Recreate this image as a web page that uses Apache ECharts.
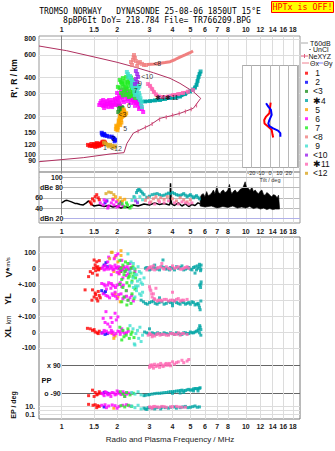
<!DOCTYPE html>
<html><head><meta charset="utf-8">
<script src="https://cdn.jsdelivr.net/npm/echarts@6/dist/echarts.min.js"></script>
<style>html,body{margin:0;padding:0;background:#fff}#c{width:335px;height:451px}</style>
</head><body><div id="c"></div>
<script>
// ---------------- tick values ----------------
const freqTicks = [1,1.5,2,3,4,5,6,7,8,10,12,14,16,18];
const heightTicks = [80,90,100,120,150,200,300,400,600,800];
const freqRange = [0.753, 19.7];
const heightRange = [73.1, 844];
const ampRange = [11, 110];
const tiltRange = [-30, 30];
const tiltHeightRange = [78.5, 501];

// ---------------- main ionogram echoes (MHz, km) ----------------
const echo1 = [[1.39,119],[1.46,117],[1.50,119],[1.54,118],[1.58,121],[1.62,122],[1.66,124],[1.70,126],[1.52,115],[1.60,117],[1.64,119],[1.68,121],[1.48,117],[1.56,116],[1.72,124],[1.42,117],[1.45,121],[1.51,121],[1.57,119],[1.63,120],[1.67,126],[1.55,123]];
const echo2 = [[1.65,148],[1.66,144],[1.68,142],[1.72,141],[1.76,140],[1.81,138],[1.87,138],[1.90,135],[1.93,133],[1.95,130],[1.94,127],[1.70,145]];
const echo3 = [[2.02,243],[2.07,240],[2.12,235],[2.05,228],[2.10,223],[2.15,219],[2.03,215],[2.09,213],[2.14,231]];
const echo4 = [[2.53,262],[2.66,260],[2.84,260],[3.02,262],[3.21,265],[3.42,267],[3.64,272],[3.88,277],[4.13,279],[4.39,284],[4.68,297],[4.98,311],[5.17,322],[5.30,334],[5.40,350],[5.47,376],[5.54,404],[5.61,426],[5.68,446]];
const echo5 = [[1.97,158],[1.99,165],[2.03,172],[2.05,181],[2.07,192],[2.10,204],[2.13,210],[2.19,216],[2.21,204],[2.10,186],[2.02,163],[2.00,160],[2.06,176],[2.12,196],[2.16,200],[2.08,170],[2.15,212],[2.24,210],[1.98,168],[2.04,185],[2.09,195],[2.14,205],[2.18,220],[2.11,178],[2.01,155],[2.17,225],[2.07,200]];
const echo6 = [[1.62,253],[1.66,244],[1.70,248],[1.74,240],[1.79,248],[1.83,253],[1.88,244],[1.92,253],[1.97,262],[2.02,267],[2.07,277],[2.13,282],[2.18,287],[2.24,292],[2.29,282],[2.35,272],[2.41,267],[2.47,257],[2.53,253],[2.60,244],[2.66,235],[2.73,227],[2.77,215],[1.70,231],[1.79,235],[1.88,235],[1.97,244],[2.07,248],[2.18,257],[2.29,262],[2.13,303],[2.24,314],[2.35,297],[2.47,287],
  [1.64,262],[1.68,267],[1.72,257],[1.76,262],[1.81,267],[1.85,257],[1.90,267],[1.95,272],[2.00,277],[2.05,287],[2.10,292],[2.15,297],[2.21,303],[2.26,297],[2.32,287],[2.38,277],[2.44,272],[2.50,262],[2.57,257],[2.63,248],[2.70,240],[2.05,257],[2.15,267],[2.26,272],[2.38,253],[2.50,240],[2.63,227],[1.95,248],[1.85,240],[1.76,248],[1.68,240],[1.60,244],[2.10,320],[2.21,325],[2.32,308],[2.44,303],[2.57,282],[2.00,303]];
const echo7 = [[2.07,383],[2.15,396],[2.24,404],[2.32,389],[2.41,383],[2.13,356],[2.21,350],[2.29,362],[2.38,350],[2.47,344],[2.07,331],[2.18,320],[2.26,325],[2.35,314],[2.44,308],[2.53,303],[2.24,292],[2.32,282],[2.41,287],[2.50,277],[2.10,303],[2.02,338],
  [2.10,370],[2.20,375],[2.28,370],[2.36,365],[2.16,340],[2.24,335],[2.32,340],[2.40,330],[2.48,320],[2.20,310],[2.28,300],[2.36,295],[2.45,295],[2.15,290],[2.12,365],[2.30,410],[2.38,400]];
const echo8 = [[2.38,529],[2.44,548],[2.46,578],[2.47,600],[2.50,569],[2.53,538],[2.60,520],[2.66,529],[2.73,511],[2.80,501],[2.41,501],[2.57,492],[2.87,501]];
const echo8Trail = [[2.91,506],[3.21,511],[3.42,517],[3.64,524],[3.88,532],[4.13,553],[4.39,578],[4.68,600],[4.98,625],[5.17,644]];
const echo9 = [[2.26,442],[2.29,426],[2.35,411],[2.41,369],[2.47,356],[2.53,344],[2.60,331],[2.44,331],[2.57,314],[2.63,303],[2.50,292],[2.60,282],[2.66,267],[2.70,248],[2.73,235],
  [2.30,400],[2.38,390],[2.45,375],[2.52,360],[2.58,350],[2.64,340],[2.55,300],[2.65,290],[2.68,275],[2.72,260],[2.48,310],[2.40,345]];
const echo10 = [[2.53,450],[2.57,426],[2.60,404],[2.53,389],[2.57,369],[2.50,356]];
const echo11 = [[2.94,356],[3.02,344],[3.10,325],[3.17,308],[3.25,295],[3.38,284],[3.55,282],[3.79,284],[4.04,292],[4.30,297],[4.56,303],[4.85,310],[5.17,320]];
const echo12 = [[1.70,124],[1.74,121],[1.78,119],[1.83,119],[1.88,117],[1.95,116],[1.80,116],[1.91,114]];
const echoLabels = [['1',1.72,114],['<12',1.97,112],['2',1.91,134],['5',2.21,160],['<3',2.14,204],['6',2.32,240],['7',2.52,314],['9',2.66,356],['<10',2.91,411],['✱4',3.42,277],['✱11',3.98,277],['<8',3.30,515]];

// NeXYZ profile (MHz, km)
const profile = [[0.753,705],[1.065,648],[1.615,565],[2.0,526],[2.449,486],[3.15,436],[3.88,394],[4.39,360],[5.19,310],[5.69,275],[5.19,230],[4.39,210],[3.88,200],[3.42,192],[3.02,170],[2.449,147],[2.26,122],[2.18,103.5],[1.83,101],[1.31,94.6],[0.753,88]];
const profileMarks = [[2.6,152],[2.85,163],[3.1,173],[3.4,188],[3.7,196],[4.0,203],[4.35,209],[4.7,217],[5.05,226],[5.4,242]];

// tilt inset (deg, km)
const tiltX = [[0.7,254],[0,231],[-0.7,210],[-4.2,198],[-6.2,186],[-5.9,175],[-1.8,165],[1.8,156],[2.8,142],[3.4,136]];
const tiltY = [[-4.2,252],[-1.8,237],[1.0,223],[1.8,204],[-0.7,186],[-1.8,175],[-0.7,167],[3.4,160],[8.6,154],[11.1,147],[11.1,138]];

// ---------------- amplitude panel (MHz, dB) ----------------
const noiseLow = [[1.0,50],[1.04,54],[1.07,55],[1.11,53],[1.13,52],[1.18,49],[1.21,49],[1.26,47],[1.31,46],[1.36,50],[1.40,54],[1.45,47],[1.5,44],[1.6,46],[1.7,43],[1.8,45],[1.9,42],[2.0,44],[2.1,40],[2.2,43],[2.3,41],[2.45,46],[2.6,44],[2.8,48],[3.0,46],[3.2,50],[3.4,47],[3.6,49],[3.85,46],[3.88,50],[3.90,88],[3.93,55],[3.95,48],[4.1,45],[4.3,50],[4.5,44],[4.7,48],[4.9,43],[5.1,47],[5.3,45],[5.5,50],[5.65,48]];
const noiseTop = [[5.65,60],[5.75,66],[5.88,68],[6.0,62],[6.13,72],[6.25,64],[6.40,66],[6.55,70],[6.67,75],[6.8,68],[6.96,82],[7.1,70],[7.26,68],[7.4,73],[7.56,75],[7.7,70],[7.88,72],[8.0,76],[8.15,86],[8.3,72],[8.40,68],[8.6,73],[8.76,75],[8.95,70],[9.13,72],[9.3,76],[9.53,78],[9.7,82],[9.92,91],[10.1,80],[10.35,78],[10.55,74],[10.79,81],[11.0,72],[11.25,75],[11.5,70],[11.73,68],[12.0,73],[12.23,75],[12.5,66],[12.74,65],[13.0,70],[13.29,68],[13.6,64],[13.86,62],[14.1,66],[14.44,65],[14.8,60],[15.06,65],[15.24,42]];
const noiseBottom = [[5.65,44],[6.0,42],[6.5,44],[7.0,40],[7.5,43],[8.0,41],[8.5,44],[9.0,40],[9.5,42],[10.0,40],[10.5,43],[11.0,39],[11.5,41],[12.0,38],[12.5,40],[13.0,37],[13.5,39],[14.0,37],[14.5,38],[15.24,38]];
const amp1 = [[1.43,52],[1.47,58],[1.52,62],[1.55,66],[1.58,60],[1.50,54],[1.60,56],[1.45,48]];
const amp2 = [[1.72,50],[1.76,54]];
const amp3 = [[2.05,48],[2.10,52]];
const amp4 = [[2.47,62],[2.55,70],[2.62,77],[2.70,72],[2.80,66],[2.90,61],[3.1,66],[3.3,68],[3.5,64],[3.7,67],[3.88,68],[4.0,70],[4.2,66],[4.4,64],[4.6,68],[4.8,62],[5.0,66],[5.2,60],[5.4,64],[5.6,58],[2.58,74],[2.66,75],[2.75,69],[3.0,63],[3.2,67],[3.4,66],[3.6,65],[3.8,69],[4.1,68],[4.3,65],[4.5,66],[4.7,65],[4.9,64],[5.1,63],[5.3,62],[5.5,61]];
const amp5 = [[1.90,58],[1.96,62],[2.02,55],[2.08,60],[2.14,54],[2.20,57]];
const amp6 = [[1.62,50],[1.68,46],[1.74,53],[1.80,44],[1.86,50],[1.92,46],[1.98,52],[2.04,44],[2.10,48],[1.70,56],[1.90,56],[2.0,42],[1.78,40],[2.15,44]];
const amp7 = [[2.13,48],[2.2,42],[2.28,46],[2.35,40],[2.25,50],[2.40,44]];
const amp8 = [[2.85,55],[2.95,60],[3.05,52],[3.15,58],[3.25,62],[3.35,55],[3.45,60],[3.6,57],[3.75,62],[4.0,58],[4.2,54],[4.4,60],[4.6,56],[4.8,52],[5.0,56]];
const amp9 = [[2.41,55],[2.5,60],[2.58,52],[2.66,62],[2.75,56]];
const amp10 = [[2.52,54],[2.58,50]];
const amp11 = [[3.0,50],[3.2,48],[3.4,52],[3.6,50],[3.8,54],[4.1,50],[4.3,48],[4.5,52],[4.7,50],[4.9,48],[5.1,50]];
const amp12 = [[1.74,68],[1.80,71],[1.86,70],[1.92,66]];

// ---------------- lower panels (MHz, value) ----------------
const v1 = [[1.50,52],[1.55,41],[1.60,48],[1.52,21],[1.57,10],[1.49,0],[1.58,-6],[1.53,-15],[1.62,0],[1.47,-31],[1.56,-42],[1.40,-52],[1.43,-21],[1.54,5],[1.59,-10]];
const v2 = [[1.70,20],[1.74,35],[1.77,10]];
const v3 = [[2.05,0],[2.10,-20]];
const v4 = [[2.85,0],[3.0,-10],[3.15,5],[3.3,-5],[3.5,10],[3.55,52],[3.7,-5],[3.9,5],[4.1,-10],[4.3,0],[4.5,15],[4.7,-5],[4.9,5],[5.1,-10],[5.3,10],[5.5,0],[5.6,25],[5.7,-5],[5.3,-30],[3.2,20],
  [2.9,5],[3.05,-5],[3.25,0],[3.4,-10],[3.6,5],[3.75,0],[3.85,-10],[4.0,0],[4.2,10],[4.4,5],[4.6,-10],[4.8,0],[5.0,-5],[5.2,5],[5.4,-10],[5.45,15],[5.62,10],[5.68,-15],[5.72,20]];
const v5 = [[1.88,100],[1.95,70],[2.02,40],[2.10,80],[1.92,-20],[2.05,-30],[2.12,5],[2.10,110]];
const v6 = [[1.68,10],[1.74,-5],[1.83,15],[1.90,-10],[1.97,5],[2.07,-15],[2.18,10],[2.29,-5],[2.41,0],[2.50,-20],[1.78,40],[1.93,60],[2.02,90],[2.12,50],[1.86,-40],[2.05,-35],[2.24,-45],[1.72,20],[2.00,-25],[2.35,30],[1.95,20],[2.10,-5],[2.22,-20],
  [1.66,0],[1.70,-10],[1.76,5],[1.80,-5],[1.85,0],[1.88,10],[1.92,-5],[1.99,0],[2.03,10],[2.08,5],[2.14,-10],[2.20,0],[2.27,10],[2.33,-10],[2.38,5],[1.80,70],[1.97,80],[2.15,-60],[2.30,-35]];
const v7 = [[2.07,50],[2.15,20],[2.24,-10],[2.33,-50],[2.41,-80],[2.18,-40],[2.29,30],[2.38,0],[2.47,-30],[2.12,-70],[2.26,-90],[2.44,10],[2.52,-60],[2.10,0],[2.20,-20],[2.30,-60],[2.36,-30],[2.44,-50],[2.50,-5],[2.22,40]];
const v9 = [[2.29,90],[2.38,40],[2.47,0],[2.56,-40],[2.66,-70],[2.75,-100],[2.44,-60],[2.60,10],[2.70,-30],[2.52,-110],[2.35,-20],[2.80,-60],[2.40,-90],[2.50,-40],[2.58,-80],[2.64,-20],[2.70,-90],[2.45,30],[2.55,-120]];
const v11 = [[3.0,5],[3.1,-5],[3.3,0],[3.45,10],[3.6,-5],[3.8,0],[4.0,15],[4.2,5],[4.4,-5],[4.6,0],[4.8,10],[3.5,30],[2.9,-10],
  [2.95,0],[3.05,10],[3.2,-10],[3.35,5],[3.55,0],[3.7,10],[3.9,-5],[4.1,0],[4.3,10],[4.5,-5],[4.7,5],[4.9,0],[3.15,15]];
const v12 = [[1.82,60],[1.86,100]];

const yl1 = [[1.47,65],[1.52,45],[1.58,55],[1.50,20],[1.55,10],[1.60,30],[1.46,0],[1.57,-5],[1.53,35],[1.62,15],[1.34,65]];
const yl2 = [[1.65,60],[1.70,45],[1.73,55]];
const yl4 = [[2.70,0],[2.85,-20],[3.0,-15],[3.15,-5],[3.3,-25],[3.5,-10],[3.7,-20],[3.9,-15],[4.1,-5],[4.3,-20],[4.5,-10],[4.7,-25],[4.9,-15],[5.1,-10],[5.3,-30],[5.5,-20],[5.6,-45],[5.7,-5],[3.4,15],[4.0,-35],[5.62,95],[5.72,115],[5.68,80],
  [2.78,-10],[2.92,-25],[3.08,-10],[3.22,-20],[3.38,-15],[3.6,-25],[3.8,-10],[4.0,-20],[4.2,-15],[4.4,-25],[4.6,-15],[4.8,-20],[5.0,-25],[5.2,-15],[5.4,-25],[5.55,-30],[5.65,-60],[5.7,100]];
const yl5 = [[1.95,40],[2.02,20],[2.08,-10]];
const yl6 = [[1.65,105],[1.72,90],[1.80,110],[1.88,95],[1.96,80],[2.05,100],[2.12,85],[1.75,70],[1.85,75],[1.68,40],[1.78,25],[1.90,30],[2.00,10],[2.10,40],[2.20,20],[2.30,0],[2.40,30],[2.45,-5],[1.95,50],[2.25,60],
  [1.70,100],[1.78,95],[1.86,105],[1.92,90],[2.0,95],[2.08,110],[2.16,95],[1.74,30],[1.82,15],[1.88,40],[1.96,25],[2.04,35],[2.15,10],[2.25,25],[2.35,15]];
const yl7 = [[2.07,100],[2.15,80],[2.24,60],[2.33,90],[2.41,40],[2.18,20],[2.29,0],[2.38,-20],[2.47,10],[2.12,-10],[2.50,70],[2.26,-30]];
const yl9 = [[2.45,80],[2.55,60],[2.65,40],[2.50,20],[2.60,90],[2.70,30],[2.75,50]];
const yl11 = [[3.0,85],[3.05,60],[3.1,20],[3.2,5],[3.35,0],[3.5,-5],[3.7,5],[3.9,0],[4.1,-5],[4.3,10],[4.5,0],[3.15,40],[3.25,75],[4.0,50],
  [3.02,70],[3.08,40],[3.18,10],[3.3,-5],[3.45,0],[3.6,5],[3.8,-5],[4.0,0],[4.2,5],[4.4,-5],[4.6,0],[4.8,5]];

const xl1 = [[1.43,20],[1.47,10],[1.52,0],[1.56,-5],[1.60,5],[1.50,15],[1.58,-10],[1.38,23]];
const xl2 = [[1.66,-5],[1.72,-15],[1.77,-10]];
const xl4 = [[2.82,0],[2.95,-10],[3.1,-5],[3.25,-15],[3.4,-10],[3.6,-5],[3.8,-15],[4.0,-10],[4.2,-5],[4.4,-15],[4.6,-5],[4.8,-10],[5.0,0],[5.2,-5],[5.4,5],[5.55,20],[5.65,30],[5.7,-20],[5.6,-5],[3.0,20],
  [2.9,-5],[3.05,-15],[3.18,-10],[3.32,-5],[3.5,-15],[3.7,-10],[3.9,-5],[4.1,-15],[4.3,-10],[4.5,-15],[4.7,-5],[4.9,-10],[5.1,-5],[5.3,0],[5.5,10],[5.62,40],[5.7,15]];
const xl5 = [[1.88,-10],[1.92,-40],[1.95,-25]];
const xl6 = [[1.68,86],[1.74,128],[1.95,118],[1.98,76],[1.83,33],[2.07,2],[1.65,-8],[1.92,-19],[1.78,50],[1.88,60],[2.02,95],[1.70,10],[1.86,-5],[2.12,20],[2.20,-10],[2.30,5],
  [1.70,0],[1.75,5],[1.80,-5],[1.86,10],[1.90,0],[1.97,-10],[2.02,5],[2.08,-15],[2.15,0],[2.25,-5],[1.85,90],[1.72,60]];
const xl7 = [[2.07,30],[2.15,10],[2.24,-20],[2.33,-40],[2.41,0],[2.18,-30],[2.29,20],[2.38,-15],[2.47,-35],[2.12,-50]];
const xl9 = [[2.35,40],[2.44,20],[2.53,-10],[2.62,-40],[2.70,-60],[2.48,-75],[2.58,10],[2.75,-20],[2.66,30],[2.50,-82]];
const xl11 = [[2.95,-20],[3.05,-15],[3.2,-25],[3.35,-10],[3.5,-15],[3.7,-20],[3.9,-10],[4.1,-15],[4.3,-5],[4.5,-10],[3.1,-30],
  [3.0,-10],[3.12,-20],[3.28,-15],[3.42,-20],[3.6,-15],[3.8,-20],[4.0,-10],[4.2,-15],[4.4,-20],[4.6,-10],[4.8,-15]];

const pp1 = [[1.47,-70],[1.52,-85],[1.57,-95],[1.60,-80],[1.50,-110],[1.55,-100],[1.62,-90],[1.40,-105]];
const pp2 = [[1.70,-85],[1.78,-90]];
const pp4 = [[2.8,-105],[2.95,-100],[3.1,-95],[3.3,-90],[3.5,-88],[3.7,-85],[3.9,-80],[4.1,-78],[4.3,-75],[4.5,-70],[4.7,-72],[4.9,-65],[5.1,-68],[5.3,-60],[5.5,-62],[5.65,-55],[4.0,-90],[4.6,-85],[5.2,-75],
  [2.85,-102],[3.0,-98],[3.2,-92],[3.4,-90],[3.6,-86],[3.8,-82],[4.0,-80],[4.2,-76],[4.4,-72],[4.6,-74],[4.8,-68],[5.0,-70],[5.2,-62],[5.4,-60],[5.6,-58],[5.5,-75],[4.4,-88]];
const pp6 = [[1.65,-90],[1.72,-80],[1.80,-95],[1.88,-85],[1.95,-100],[2.05,-90],[2.15,-80],[2.25,-95],[1.70,-105],[2.0,-75],[1.85,-110],[2.2,-110],
  [1.68,-95],[1.75,-85],[1.78,-100],[1.83,-92],[1.92,-88],[1.98,-95],[2.03,-82],[2.10,-98],[2.18,-90],[2.30,-88],[2.38,-92]];
const pp7 = [[2.08,-80],[2.15,-95],[2.25,-85],[2.35,-100],[2.45,-90],[2.2,-110]];
const pp9 = [[2.4,-85],[2.5,-95],[2.6,-80],[2.7,-100]];
const pp11 = [[3.0,75],[3.05,90],[3.1,80],[3.2,95],[3.3,85],[3.4,75],[3.5,90],[3.6,85],[3.7,100],[3.8,95],[4.0,110],[4.2,105],[4.5,120],[4.8,115],[3.15,70],[3.45,100],[3.9,85],
  [3.02,85],[3.12,90],[3.25,80],[3.35,92],[3.55,80],[3.65,95],[3.75,88],[3.85,100],[4.1,95],[4.3,110],[4.6,105],[4.9,125]];

const ep1 = [[1.40,25],[1.48,15],[1.52,20],[1.57,12],[1.60,8],[1.55,4]];
const ep2 = [[1.7,6]];
const ep4 = [[2.8,3],[2.9,1.5],[3.0,4],[3.2,2],[3.5,5],[3.8,3],[4.1,6],[4.4,4],[4.7,8],[5.0,5],[5.3,10],[5.6,6],
  [2.85,2],[2.95,4],[3.1,3],[3.3,4],[3.45,2],[3.65,4],[3.9,5],[4.2,3],[4.55,6],[4.85,4],[5.15,7],[5.45,5]];
const ep5 = [[1.92,3]];
const ep6 = [[1.65,15],[1.72,20],[1.80,10],[1.88,18],[1.95,12],[2.05,8],[2.15,15],[2.25,20],[2.35,10],[1.75,4],[2.0,3]];
const ep7 = [[2.1,12],[2.2,6],[2.3,15],[2.4,8]];
const ep9 = [[2.4,10],[2.5,4],[2.6,15],[2.7,2]];
const ep11 = [[3.0,6],[3.2,8],[3.4,5],[3.6,7],[3.9,6],[4.2,8],[4.5,5],[3.1,3],[3.05,5],[3.15,7],[3.3,6],[3.5,8],[3.7,5],[4.0,7],[4.35,6],[4.7,5]];

// ---------------- styles ----------------
const NB = '\u00a0';
const names = [NB+'1',NB+'2','<3','✱4',NB+'5',NB+'6',NB+'7','<8',NB+'9','<10','✱11','<12'];
const colors = ['#ff0000','#0000ff','#1f8f1f','#00a5a5','#ffa500','#ff00ff','#22ee22','#f08080','#40e0d0','#9a22ee','#ff69b4','#daa520'];
const lg = Math.log10;
const FH = d => d.map(p => [lg(p[0]), lg(p[1])]);
const FV = d => d.map(p => [lg(p[0]), p[1]]);
const font = 'Liberation Sans';
const tick = {fontFamily: font, fontSize: 7, fontWeight: 'bold', color: '#222'};
const gridCol = '#dcdcdc';

function sc(i, xi, yi, data, size) {
  return {type:'scatter', name:names[i], xAxisIndex:xi, yAxisIndex:yi, data:data, symbol:'rect',
    symbolSize:size||3, itemStyle:{color:colors[i]}, clip:false, silent:true, animation:false};
}
function ln(color, xi, yi, data, width, z) {
  return {type:'line', xAxisIndex:xi, yAxisIndex:yi, data:data, symbol:'none', showSymbol:false, z:z||2,
    lineStyle:{color:color, width:width||1}, itemStyle:{color:color}, clip:false, silent:true, animation:false};
}
const fmtF = v => String(+Math.pow(10, v).toFixed(2));

// grids: 0 main, 1 amp, 2 lower frame, 3 V, 4 YL, 5 XL, 6 PP, 7 EP, 8 tilt
const L = 39, W = 261;
const grids = [
  {left:L, top:36, width:W, height:136, show:true, borderColor:'#999', borderWidth:1},
  {left:L, top:172, width:W, height:51, show:true, borderColor:'#999', borderWidth:1},
  {left:L, top:237, width:W, height:182, show:true, borderColor:'#777', borderWidth:1},
  {left:L, top:252.3, width:W, height:32},
  {left:L, top:284.3, width:W, height:31.8},
  {left:L, top:316.1, width:W, height:31.8},
  {left:61.7, top:365, width:300-61.7, height:28.3},
  {left:L, top:406, width:W, height:8.3},
  {left:242, top:65, width:56, height:103}
].map(g => Object.assign({outerBoundsMode:'none', containLabel:false}, g));

const fx = [lg(freqRange[0]), lg(freqRange[1])];
function xAx(gi, opts) {
  return Object.assign({type:'value', gridIndex:gi, min:fx[0], max:fx[1], axisLine:{show:false}, axisTick:{show:false},
    axisLabel:{show:false}, splitLine:{show:false}}, opts||{});
}
const freqCustom = freqTicks.map(lg);
const xAxes = [
  xAx(0, {position:'top', axisTick:{show:false, customValues:freqCustom}, axisLabel:Object.assign({show:true, customValues:freqCustom, formatter:fmtF, margin:3}, tick), splitLine:{show:true, lineStyle:{color:gridCol}}}),
  xAx(1, {position:'bottom', axisTick:{show:false, customValues:freqCustom}, axisLabel:Object.assign({show:true, customValues:freqCustom, formatter:fmtF, margin:5}, tick), splitLine:{show:true, lineStyle:{color:gridCol}}}),
  xAx(2, {position:'bottom', axisTick:{show:false, customValues:freqCustom}, axisLabel:Object.assign({show:true, customValues:freqCustom, formatter:fmtF, margin:4}, tick), splitLine:{show:true, lineStyle:{color:gridCol}}}),
  xAx(3), xAx(4), xAx(5),
  xAx(6, {min:0}),
  xAx(7),
  {type:'value', gridIndex:8, min:tiltRange[0], max:tiltRange[1], interval:10, z:3, axisLine:{show:false}, axisTick:{show:false},
   axisLabel:{fontFamily:font, fontSize:5.5, color:'#333', margin:2, formatter:v => Math.abs(v) === 30 ? '' : String(v)},
   splitLine:{show:true, lineStyle:{color:'#b8b8b8'}}, name:'Tilt / deg', nameLocation:'middle', nameGap:8,
   nameTextStyle:{fontFamily:font, fontSize:5.5, color:'#333'}}
];

const hCustom = heightTicks.map(lg);
const yAxes = [
  {type:'value', gridIndex:0, min:lg(heightRange[0]), max:lg(heightRange[1]), axisLine:{show:true, lineStyle:{color:'#888'}}, axisTick:{show:false, customValues:hCustom},
   axisLabel:Object.assign({customValues:hCustom, formatter:fmtF, margin:3}, tick), splitLine:{show:true, lineStyle:{color:gridCol}}},
  {type:'value', gridIndex:1, position:'left', min:ampRange[0], max:ampRange[1], axisLine:{show:true, lineStyle:{color:'#888'}}, axisTick:{show:false, customValues:[40,60]},
   axisLabel:Object.assign({customValues:[40,60], margin:-4}, tick), splitLine:{show:true, lineStyle:{color:'#bbb'}}},
  {type:'value', gridIndex:1, position:'left', offset:0, min:ampRange[0], max:ampRange[1], axisLine:{show:false}, axisTick:{show:false, customValues:[80,100]},
   axisLabel:Object.assign({customValues:[80,100], inside:true, margin:1, backgroundColor:'#fff',
     formatter:v => v === 80 ? 'dBe 80' : '{p|100}', rich:{p:{padding:[0,0,0,11], fontFamily:font, fontSize:7, fontWeight:'bold', color:'#222'}}}, tick),
   splitLine:{show:true, lineStyle:{color:'#bbb'}}, z:3},
  {type:'value', gridIndex:1, position:'left', offset:0, min:ampRange[0], max:ampRange[1], axisLine:{show:false}, axisTick:{show:false, customValues:[20]},
   axisLabel:Object.assign({customValues:[20], inside:true, margin:1, backgroundColor:'#fff', formatter:() => 'dBn 20'}, tick),
   splitLine:{show:true, lineStyle:{color:'#b0b0e8'}}, z:3},
  {type:'value', gridIndex:2, min:0, max:1, axisLine:{show:false}, axisTick:{show:false}, axisLabel:{show:false}, splitLine:{show:false}},
  {type:'value', gridIndex:3, min:-100, max:100, interval:100, axisLine:{show:false}, axisTick:{show:false},
   axisLabel:Object.assign({margin:3, formatter:v => v === -100 ? '+-100' : String(v)}, tick), splitLine:{show:true, lineStyle:{color:gridCol}}},
  {type:'value', gridIndex:4, min:-100, max:100, interval:100, axisLine:{show:false}, axisTick:{show:false},
   axisLabel:Object.assign({margin:3, formatter:v => v === 100 ? '' : (v === -100 ? '+-100' : String(v))}, tick), splitLine:{show:true, lineStyle:{color:gridCol}}},
  {type:'value', gridIndex:5, min:-100, max:100, interval:100, axisLine:{show:false}, axisTick:{show:false},
   axisLabel:Object.assign({margin:3, formatter:v => v === 100 ? '' : String(v)}, tick), splitLine:{show:true, lineStyle:{color:gridCol}}},
  {type:'value', gridIndex:6, min:-90, max:90, axisLine:{show:false}, axisTick:{show:false, customValues:[-90,90]},
   axisLabel:Object.assign({customValues:[-90,90], margin:1, formatter:v => v > 0 ? 'x 90' : 'o -90'}, tick), splitLine:{show:true, lineStyle:{color:'#666'}}},
  {type:'value', gridIndex:7, min:-1, max:1, axisLine:{show:false}, axisTick:{show:false, customValues:[-1,0,1]},
   axisLabel:Object.assign({customValues:[-1,1], margin:4, formatter:v => v > 0 ? '10.' : '0.1'}, tick), splitLine:{show:true, lineStyle:{color:gridCol}}},
  {type:'value', gridIndex:8, min:lg(tiltHeightRange[0]), max:lg(tiltHeightRange[1]), axisLine:{show:false}, axisTick:{show:false}, axisLabel:{show:false}, splitLine:{show:false}}
];

const series = [];
series.push({type:'custom', xAxisIndex:1, yAxisIndex:1, data:[[lg(noiseTop[0][0]), noiseTop[0][1]]], clip:false, silent:true, z:1,
  renderItem:(p, api) => {
    const pts = noiseTop.concat(noiseBottom.slice().reverse()).map(q => api.coord([lg(q[0]), q[1]]));
    return {type:'polygon', shape:{points:pts}, style:{fill:'#000', stroke:'#000', lineWidth:0.6}};
  }});
series.push(ln('#000', 1, 1, FV(noiseLow), 1.5));

const mainSets = [echo1, echo2, echo3, echo4, echo5, echo6, echo7, echo8, echo9, echo10, echo11, echo12];
mainSets.forEach((d, i) => series.push(sc(i, 0, 0, FH(d), 4)));
series.push(ln(colors[3], 0, 0, FH(echo4), 3));
series.push(ln(colors[10], 0, 0, FH(echo11), 3));
series.push(ln(colors[7], 0, 0, FH(echo8Trail), 3));
series.push(ln('#b03060', 0, 0, FH(profile), 1));
series.push({type:'scatter', xAxisIndex:0, yAxisIndex:0, data:FH(profileMarks), symbol:'rect', symbolSize:[1.2,4],
  itemStyle:{color:'#e05080'}, silent:true, clip:false});
series.push({type:'scatter', xAxisIndex:0, yAxisIndex:0, symbolSize:0, silent:true, clip:false, z:6,
  data:echoLabels.map(l => ({value:[lg(l[1]), lg(l[2])], label:{show:true, formatter:l[0], position:'inside',
    fontFamily:font, fontSize:7, lineHeight:6, color:'#000'}}))});

[amp1, amp2, amp3, amp4, amp5, amp6, amp7, amp8, amp9, amp10, amp11, amp12].forEach((d, i) => series.push(sc(i, 1, 1, FV(d), 3)));
const vSets = {0:v1,1:v2,2:v3,3:v4,4:v5,5:v6,6:v7,8:v9,10:v11,11:v12};
Object.keys(vSets).forEach(k => series.push(sc(+k, 3, 5, FV(vSets[k]), 3)));
const ylSets = {0:yl1,1:yl2,3:yl4,4:yl5,5:yl6,6:yl7,8:yl9,10:yl11};
Object.keys(ylSets).forEach(k => series.push(sc(+k, 4, 6, FV(ylSets[k]), 3)));
const xlSets = {0:xl1,1:xl2,3:xl4,4:xl5,5:xl6,6:xl7,8:xl9,10:xl11};
Object.keys(xlSets).forEach(k => series.push(sc(+k, 5, 7, FV(xlSets[k]), 3)));
const ppSets = {0:pp1,1:pp2,3:pp4,5:pp6,6:pp7,8:pp9,10:pp11};
Object.keys(ppSets).forEach(k => series.push(sc(+k, 6, 8, FV(ppSets[k]), 3)));
const epSets = {0:ep1,1:ep2,3:ep4,4:ep5,5:ep6,6:ep7,8:ep9,10:ep11};
Object.keys(epSets).forEach(k => series.push(sc(+k, 7, 9, FH(epSets[k]), 3)));
series.push(ln('#ff0000', 8, 10, tiltX.map(p => [p[0], lg(p[1])]), 2, 4));
series.push(ln('#0000ff', 8, 10, tiltY.map(p => [p[0], lg(p[1])]), 2, 4));

const tf = (s, w) => (w||'normal') + ' ' + s + 'px "' + font + '"';
function txt(x, y, text, size, opts) {
  opts = opts || {};
  const el = {type:'text', x:x, y:y, silent:true, style:{text:text, font:tf(size, opts.weight || 'normal'),
    fill:opts.fill || '#111', align:opts.align || 'center', verticalAlign:'middle', textAlign:opts.align || 'center', textVerticalAlign:'middle'}};
  if (opts.rot) el.rotation = opts.rot;
  return el;
}
const mono = s => 'normal ' + s + 'px "DejaVu Sans Mono"';
const graphic = [
  {type:'rect', z:1, shape:{x:242.5, y:65.5, width:55, height:102}, style:{fill:'#fff', stroke:'#aaa', lineWidth:1}, silent:true},
  {type:'text', x:150, y:11.5, silent:true, style:{text:'TROMSO NORWAY   DYNASONDE 25-08-06 1850UT 15°E', font:mono(8), lineHeight:7, fill:'#000', align:'center', verticalAlign:'middle'}},
  {type:'text', x:157, y:20, silent:true, style:{text:'8pBP6It DoY= 218.784 File= TR766209.BPG', font:mono(8), lineHeight:7, fill:'#000', align:'center', verticalAlign:'middle'}},
  {type:'rect', shape:{x:271.5, y:1.5, width:62, height:11}, style:{fill:'#ffff00', stroke:'#ff0000', lineWidth:1}, silent:true},
  {type:'text', x:302.5, y:7.3, silent:true, style:{text:'HPTx is OFF!', font:mono(8.3), fill:'#ff0000', align:'center', verticalAlign:'middle'}},
  {type:'line', shape:{x1:301, y1:43, x2:308, y2:43}, style:{stroke:'#aaa', lineWidth:1}, silent:true},
  txt(310, 43, 'T60dB', 7, {align:'left'}),
  {type:'rect', shape:{x:309.5, y:49, width:1, height:1}, style:{fill:'#000'}, silent:true},
  txt(313, 49.7, 'UnCl', 7, {align:'left'}),
  {type:'line', shape:{x1:301, y1:56, x2:308, y2:56}, style:{stroke:'#e06080', lineWidth:1}, silent:true},
  {type:'line', shape:{x1:304.5, y1:54, x2:304.5, y2:58}, style:{stroke:'#e06080', lineWidth:1}, silent:true},
  txt(308.5, 56.4, 'NeXYZ', 7, {align:'left'}),
  {type:'line', shape:{x1:302, y1:63, x2:309, y2:63}, style:{stroke:'#f08090', lineWidth:1}, silent:true},
  txt(310, 63, 'Θx', 7, {align:'left'}),
  {type:'line', shape:{x1:318, y1:63, x2:323, y2:63}, style:{stroke:'#8080ff', lineWidth:1}, silent:true},
  txt(323.5, 63, 'Θy', 7, {align:'left'}),
  txt(14, 78.5, "R', R / km", 8.5, {weight:'bold', rot:Math.PI/2}),
  txt(8, 272.5, 'V*', 9.5, {weight:'bold', rot:Math.PI/2}),
  txt(8, 262, 'm/s', 6, {rot:Math.PI/2}),
  txt(8, 299, 'YL', 9, {weight:'bold', rot:Math.PI/2}),
  txt(8.5, 320, 'km', 6.5, {rot:Math.PI/2}),
  txt(8, 332, 'XL', 9, {weight:'bold', rot:Math.PI/2}),
  txt(46.5, 380, 'PP', 7.5, {weight:'bold'}),
  txt(13, 405, 'EP / deg', 7, {weight:'bold', rot:Math.PI/2}),
  txt(170, 439, 'Radio and Plasma Frequency / MHz', 8, {fill:'#222'})
];

const option = {
  animation:false,
  backgroundColor:'#fff',
  grid:grids, xAxis:xAxes, yAxis:yAxes, series:series, graphic:graphic,
  legend:{orient:'vertical', left:305, top:68.7, itemWidth:3, itemHeight:3, itemGap:0.1, padding:0, selectedMode:false,
    textStyle:{fontFamily:font, fontSize:8.5, lineHeight:8, color:'#111'}, data:names.map(n => ({name:n, icon:'rect'}))}
};
const chart = echarts.init(document.getElementById('c'), null, {renderer:'svg', width:335, height:451});
chart.setOption(option);
</script></body></html>
